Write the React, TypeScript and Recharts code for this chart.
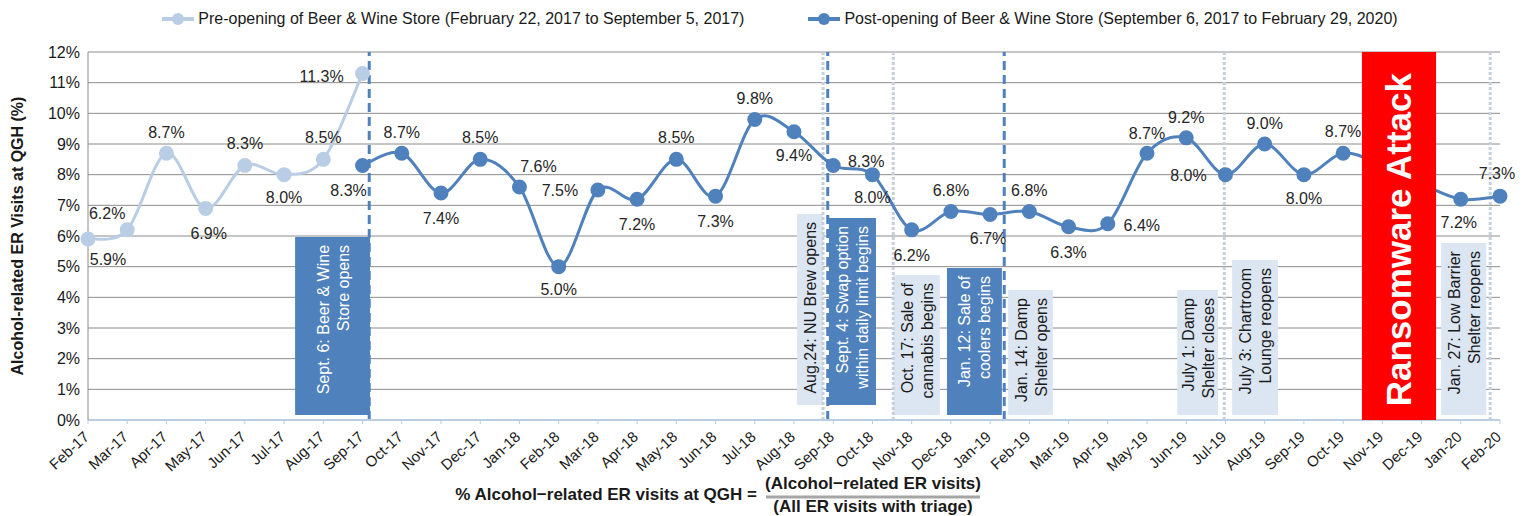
import { LineChart, Line, XAxis, YAxis, CartesianGrid, Legend, ReferenceArea, ReferenceLine, LabelList } from 'recharts';

const months = [
  'Feb-17', 'Mar-17', 'Apr-17', 'May-17', 'Jun-17', 'Jul-17', 'Aug-17', 'Sep-17', 'Oct-17', 'Nov-17', 'Dec-17',
  'Jan-18', 'Feb-18', 'Mar-18', 'Apr-18', 'May-18', 'Jun-18', 'Jul-18', 'Aug-18', 'Sep-18', 'Oct-18', 'Nov-18', 'Dec-18',
  'Jan-19', 'Feb-19', 'Mar-19', 'Apr-19', 'May-19', 'Jun-19', 'Jul-19', 'Aug-19', 'Sep-19', 'Oct-19', 'Nov-19', 'Dec-19',
  'Jan-20', 'Feb-20',
];

// % alcohol-related ER visits, before the store opened
const preOpening = [5.9, 6.2, 8.7, 6.9, 8.3, 8.0, 8.5, 11.3];
// after opening, Sep-17 .. Feb-20 (Nov/Dec-19 sit behind the ransomware box)
const postOpening = [
  8.3, 8.7, 7.4, 8.5, 7.6, 5.0, 7.5, 7.2, 8.5, 7.3, 9.8, 9.4, 8.3, 8.0, 6.2, 6.8, 6.7, 6.8, 6.3, 6.4,
  8.7, 9.2, 8.0, 9.0, 8.0, 8.7, 8.3, 7.7, 7.2, 7.3,
];
const postStart = 7;
const yTicks = [0, 1, 2, 3, 4, 5, 6, 7, 8, 9, 10, 11, 12];

const preName = 'Pre-opening of Beer & Wine Store (February 22, 2017 to September 5, 2017)';
const postName = 'Post-opening of Beer & Wine Store (September 6, 2017 to February 29, 2020)';

const data = months.map((m, i) => ({
  idx: i,
  month: m,
  pre: i < preOpening.length ? preOpening[i] : null,
  post: i >= postStart ? postOpening[i - postStart] : null,
}));

// label placement (centre offset from the point), by month index
const preLabelPos: Record<number, [number, number]> = {
  0: [20, 20], 1: [-20, -17], 2: [0, -21], 3: [3, 25], 4: [0, -22], 5: [0, 22], 6: [0, -22], 7: [-41, 3],
};
const postLabelPos: Record<number, [number, number]> = {
  7: [-14, 25], 8: [0, -21], 9: [0, 25], 10: [0, -22], 11: [19, -21], 12: [0, 22], 13: [-38, 0], 14: [0, 25],
  15: [0, -22], 16: [0, 25], 17: [0, -21], 18: [0, 23], 19: [33, -4], 20: [0, 22], 21: [0, 25], 22: [0, -21],
  23: [-2, 23], 24: [0, -21], 25: [0, 25], 26: [34, 1], 27: [0, -20], 28: [0, -21], 29: [-37, 0], 30: [0, -21],
  31: [0, 23], 32: [0, -22], 35: [-2, 23], 36: [-3, -23],
};

const DARK = '#4F81BD';
const LIGHT = '#B9CDE5';
const PALE = '#DCE6F2';
const FONT = 'Liberation Sans, Arial, sans-serif';

// event lines, x in month-index units
const eventLines = [
  { x: 7.17, dashed: true },
  { x: 18.74, dashed: false },
  { x: 18.86, dashed: true },
  { x: 20.53, dashed: false },
  { x: 23.36, dashed: true },
  { x: 28.97, dashed: false },
  { x: 35.75, dashed: false },
];

const eventBoxes = [
  { x1: 5.28, x2: 7.19, y1: 0.16, y2: 5.97, dark: true, lines: ['Sept. 6:  Beer & Wine', 'Store opens'] },
  { x1: 18.08, x2: 18.74, y1: 0.49, y2: 6.72, dark: false, lines: ['Aug.24: NU Brew opens'] },
  { x1: 18.89, x2: 20.09, y1: 0.49, y2: 6.59, dark: true, lines: ['Sept. 4: Swap option', 'within daily limit begins'] },
  { x1: 20.53, x2: 21.72, y1: 0.16, y2: 4.73, dark: false, lines: ['Oct. 17: Sale of', 'cannabis begins'] },
  { x1: 21.9, x2: 23.3, y1: 0.16, y2: 4.96, dark: true, lines: ['Jan. 12: Sale of', 'coolers begins'] },
  { x1: 23.46, x2: 24.6, y1: 0.16, y2: 4.24, dark: false, lines: ['Jan. 14: Damp', 'Shelter opens'] },
  { x1: 27.77, x2: 28.81, y1: 0.16, y2: 4.24, dark: false, lines: ['July 1: Damp', 'Shelter closes'] },
  { x1: 29.17, x2: 30.34, y1: 0.16, y2: 5.22, dark: false, lines: ['July 3: Chartroom', 'Lounge reopens'] },
  { x1: 34.5, x2: 35.65, y1: 0.16, y2: 5.77, dark: false, lines: ['Jan. 27: Low Barrier', 'Shelter reopens'] },
];

// Excel-like smoothed line (Catmull-Rom through the points)
const excelCurve = (context: any) => {
  let pts: number[][] = [];
  return {
    areaStart() {},
    areaEnd() {},
    lineStart() {
      pts = [];
    },
    lineEnd() {
      if (!pts.length) return;
      context.moveTo(pts[0][0], pts[0][1]);
      for (let i = 0; i < pts.length - 1; i++) {
        const p0 = pts[i - 1] || pts[i];
        const p1 = pts[i];
        const p2 = pts[i + 1];
        const p3 = pts[i + 2] || p2;
        context.bezierCurveTo(
          p1[0] + (p2[0] - p0[0]) / 6, p1[1] + (p2[1] - p0[1]) / 6,
          p2[0] - (p3[0] - p1[0]) / 6, p2[1] - (p3[1] - p1[1]) / 6,
          p2[0], p2[1],
        );
      }
    },
    point(x: number, y: number) {
      pts.push([+x, +y]);
    },
  };
};

const pointLabel = (pos: Record<number, [number, number]>) => (props: any) => {
  const { x, y, value, index } = props;
  if (value == null || !pos[index]) return null;
  const [dx, dy] = pos[index];
  return (
    <text x={x + dx} y={y + dy + 6} textAnchor="middle" fontSize={16} fontFamily={FONT} fill="#262626">
      {value.toFixed(1)}%
    </text>
  );
};

const boxText = (lines: string[], dark: boolean) => (props: any) => {
  const vb = props.viewBox;
  if (!vb) return null;
  const cx = vb.x + vb.width / 2;
  const top = vb.y + 8;
  const gap = 20;
  const start = cx - ((lines.length - 1) * gap) / 2;
  return (
    <g>
      {lines.map((l, i) => {
        const x = start + i * gap + 6;
        return (
          <text key={i} x={x} y={top} transform={`rotate(-90 ${x} ${top})`} textAnchor="end" fontSize={16}
            fontFamily={FONT} fill={dark ? '#fff' : '#1a1a1a'}>
            {l}
          </text>
        );
      })}
    </g>
  );
};

const ransomText = (props: any) => {
  const vb = props.viewBox;
  if (!vb) return null;
  const x = vb.x + vb.width / 2 + 12;
  const top = vb.y + 21;
  return (
    <text x={x} y={top} transform={`rotate(-90 ${x} ${top})`} textAnchor="end" fontSize={35} fontWeight="bold"
      fontFamily={FONT} fill="#fff">
      Ransomware Attack
    </text>
  );
};

const XTick = (props: any) => {
  const { x, y, payload } = props;
  const ax = x + 2;
  const ay = y + 12;
  return (
    <text x={ax} y={ay} transform={`rotate(-43 ${ax} ${ay})`} textAnchor="end" fontSize={15}
      fontFamily={FONT} fill="#1a1a1a">
      {months[payload.value]}
    </text>
  );
};

const Formula = () => (
  <g fontFamily="Liberation Sans Narrow, Arial Narrow, sans-serif" fontWeight="bold" fontSize={17} fill="#1a1a1a">
    <text x={757} y={500} textAnchor="end">% Alcohol−related ER visits at QGH =</text>
    <text x={873} y={489} textAnchor="middle">(Alcohol−related ER visits)</text>
    <line x1={766} x2={980} y1={497} y2={497} stroke="#A6A6A6" strokeWidth={3} />
    <text x={873} y={512} textAnchor="middle">(All ER visits with triage)</text>
  </g>
);

const LegendIcon = ({ color }: { color: string }) => (
  <svg width={32} height={14} style={{ marginRight: 4 }}>
    <line x1={0} x2={32} y1={7} y2={7} stroke={color} strokeWidth={4} />
    <circle cx={16} cy={7} r={6} fill={color} />
  </svg>
);

const renderLegend = () => (
  <div style={{ display: 'flex', justifyContent: 'center', alignItems: 'center', height: 30, fontFamily: FONT, fontSize: 16, color: '#1a1a1a', paddingLeft: 30 }}>
    <span style={{ display: 'flex', alignItems: 'center', marginRight: 64 }}>
      <LegendIcon color={LIGHT} />
      {preName}
    </span>
    <span style={{ display: 'flex', alignItems: 'center' }}>
      <LegendIcon color={DARK} />
      {postName}
    </span>
  </div>
);

export default function App() {
  return (
    <div style={{ width: 1530, height: 516 }}>
      <style>{'body{margin:0}'}</style>
      <LineChart width={1530} height={516} data={data} margin={{ top: 22, right: 30, bottom: 0, left: 0 }}>
        <CartesianGrid vertical={false} stroke="#8C8C8C" />
        <Legend verticalAlign="top" content={renderLegend} wrapperStyle={{ top: 4, left: 0, width: 1530 }} />
        <XAxis
          dataKey="idx"
          type="number"
          domain={[0, 36]}
          ticks={months.map((_, i) => i)}
          interval={0}
          height={96}
          tick={<XTick />}
          tickSize={4}
          axisLine={{ stroke: LIGHT, strokeWidth: 2 }}
          tickLine={{ stroke: LIGHT }}
          label={<Formula />}
        />
        <YAxis
          domain={[0, 12]}
          ticks={yTicks}
          width={88}
          tickFormatter={(v) => `${v}%`}
          tick={{ fontSize: 16, fontFamily: FONT, fill: '#1a1a1a' }}
          tickLine={false}
          axisLine={{ stroke: '#8C8C8C' }}
          label={{
            value: 'Alcohol-related ER Visits at QGH (%)',
            angle: -90,
            position: 'insideLeft',
            dx: 12,
            style: { fontSize: 16, fontWeight: 'bold', fontFamily: FONT, fill: '#1a1a1a', textAnchor: 'middle' },
          }}
        />
        {eventBoxes.map((b, i) => (
          <ReferenceArea key={`b${i}`} x1={b.x1} x2={b.x2} y1={b.y1} y2={b.y2} fill={b.dark ? DARK : PALE}
            fillOpacity={1} stroke="none" ifOverflow="visible" label={boxText(b.lines, b.dark)} />
        ))}
        {eventLines.map((l, i) => (
          <ReferenceLine key={`l${i}`} x={l.x} stroke={l.dashed ? DARK : '#C6D0DD'} strokeWidth={3}
            strokeDasharray={l.dashed ? '9 5' : '3 2'} />
        ))}
        <Line dataKey="pre" name={preName} type={excelCurve as any} stroke={LIGHT} strokeWidth={3}
          dot={{ r: 6, fill: LIGHT, stroke: LIGHT }} activeDot={false} isAnimationActive={false}>
          <LabelList dataKey="pre" content={pointLabel(preLabelPos)} />
        </Line>
        <Line dataKey="post" name={postName} type={excelCurve as any} stroke={DARK} strokeWidth={3}
          dot={{ r: 6, fill: DARK, stroke: DARK }} activeDot={false} isAnimationActive={false}>
          <LabelList dataKey="post" content={pointLabel(postLabelPos)} />
        </Line>
        <ReferenceArea x1={32.48} x2={34.37} y1={0} y2={12} fill="#FF0000" fillOpacity={1} stroke="none"
          zIndex={1500} label={ransomText} />
      </LineChart>
    </div>
  );
}
